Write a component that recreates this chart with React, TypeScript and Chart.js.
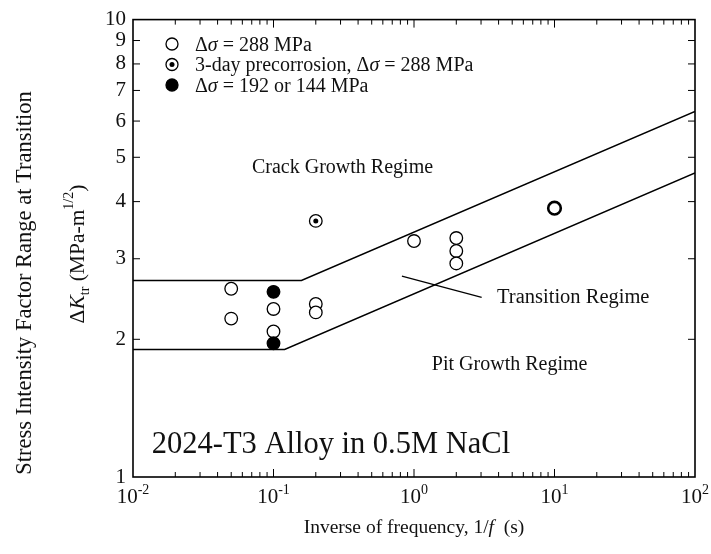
import React, { useEffect, useRef } from "react";
import { Chart, registerables } from "chart.js";

Chart.register(...registerables);

// ---------- data ----------
const openX = [0.05, 0.05, 0.1, 0.1, 0.2, 0.2, 1, 2, 2, 2];
const openY = [2.58, 2.22, 2.33, 2.08, 2.39, 2.29, 3.28, 3.33, 3.12, 2.93];
const openBoldX = [10];
const openBoldY = [3.87];
const precorrX = [0.2];
const precorrY = [3.63];
const filledX = [0.1, 0.1];
const filledY = [2.54, 1.96];

const upperX = [0.01, 0.158, 100];
const upperY = [2.69, 2.69, 6.3];
const lowerX = [0.01, 0.12, 100];
const lowerY = [1.9, 1.9, 4.62];
const pointerX = [0.82, 3.03];
const pointerY = [2.75, 2.47];

const yTickValues = [1, 2, 3, 4, 5, 6, 7, 8, 9, 10];
const xDecadeExponents = [-2, -1, 0, 1, 2];

const regimeLabels = ["Crack Growth Regime", "Transition Regime", "Pit Growth Regime"];
const regimeX = [0.0703, 3.9, 1.34];
const regimeY = [4.78, 2.48, 1.77];
const regimeSizes = [20, 20.5, 20];
const alloyLabel = "2024-T3 Alloy in 0.5M NaCl";
const alloyX = 0.0136;
const alloyY = 1.186;

const yTitleOuter = "Stress Intensity Factor Range at Transition";
const xTitleText = "Inverse of frequency, 1/";

const zip = (xs: number[], ys: number[]) => xs.map((x, i) => ({ x, y: ys[i] }));

// ---------- drawing helpers ----------
const FONT = "'Liberation Serif', 'Times New Roman', Times, serif";
type Seg = { t: string; size: number; italic?: boolean; dy?: number };

function fontOf(s: Seg) {
  return `${s.italic ? "italic " : ""}${s.size}px ${FONT}`;
}

function drawSegs(
  ctx: CanvasRenderingContext2D,
  segs: Seg[],
  x: number,
  y: number,
  align: "left" | "center",
  rot = 0
) {
  ctx.save();
  ctx.translate(x, y);
  if (rot) ctx.rotate(rot);
  ctx.textAlign = "left";
  ctx.textBaseline = "alphabetic";
  let total = 0;
  for (const s of segs) {
    ctx.font = fontOf(s);
    total += ctx.measureText(s.t).width;
  }
  let cx = align === "center" ? -total / 2 : 0;
  for (const s of segs) {
    ctx.font = fontOf(s);
    ctx.fillText(s.t, cx, s.dy || 0);
    cx += ctx.measureText(s.t).width;
  }
  ctx.restore();
}

function drawMarker(ctx: CanvasRenderingContext2D, kind: string, x: number, y: number) {
  ctx.save();
  ctx.lineWidth = 1.3;
  ctx.strokeStyle = "#000";
  ctx.beginPath();
  ctx.arc(x, y, 6, 0, Math.PI * 2);
  ctx.fillStyle = kind === "filled" ? "#000" : "#fff";
  ctx.fill();
  ctx.stroke();
  if (kind === "dot") {
    ctx.beginPath();
    ctx.arc(x, y, 2.5, 0, Math.PI * 2);
    ctx.fillStyle = "#000";
    ctx.fill();
  }
  ctx.restore();
}

const decorPlugin = {
  id: "decor",
  afterDraw(chart: any) {
    const ctx: CanvasRenderingContext2D = chart.ctx;
    const { left, right, top, bottom } = chart.chartArea;
    const xs = chart.scales.x;
    const ys = chart.scales.y;
    ctx.save();
    ctx.strokeStyle = "#000";
    ctx.fillStyle = "#111";

    // frame
    ctx.lineWidth = 1.6;
    ctx.strokeRect(left, top, right - left, bottom - top);

    // x ticks (inward, bottom and top)
    ctx.lineWidth = 1;
    for (let e = -2; e < 2; e++) {
      for (let m = 1; m <= 9; m++) {
        const v = m * Math.pow(10, e);
        const px = xs.getPixelForValue(v);
        const len = m === 1 ? 8 : 5;
        if (m === 1 && e === -2) continue;
        ctx.beginPath();
        ctx.moveTo(px, bottom);
        ctx.lineTo(px, bottom - len);
        ctx.moveTo(px, top);
        ctx.lineTo(px, top + len);
        ctx.stroke();
      }
    }
    // y ticks (inward, left and right)
    for (const v of yTickValues) {
      if (v === 1 || v === 10) continue;
      const py = ys.getPixelForValue(v);
      ctx.beginPath();
      ctx.moveTo(left, py);
      ctx.lineTo(left + 7, py);
      ctx.moveTo(right, py);
      ctx.lineTo(right - 7, py);
      ctx.stroke();
    }

    // x tick labels 10^n
    ctx.fillStyle = "#111";
    for (const e of xDecadeExponents) {
      const px = xs.getPixelForValue(Math.pow(10, e));
      drawSegs(
        ctx,
        [
          { t: "10", size: 21 },
          { t: String(e), size: 14, dy: -9 },
        ],
        px,
        bottom + 26,
        "center"
      );
    }

    // x title
    drawSegs(
      ctx,
      [
        { t: xTitleText, size: 19.5 },
        { t: "f", size: 19.5, italic: true },
        { t: "  (s)", size: 19.5 },
      ],
      (left + right) / 2,
      bottom + 56,
      "center"
    );

    // y titles
    drawSegs(ctx, [{ t: yTitleOuter, size: 22.5 }], 31, 283, "center", -Math.PI / 2);
    drawSegs(
      ctx,
      [
        { t: "Δ", size: 21.5 },
        { t: "K", size: 21.5, italic: true },
        { t: "tr", size: 14, dy: 5 },
        { t: " (MPa-m", size: 21.5 },
        { t: "1/2", size: 14, dy: -11 },
        { t: ")", size: 21.5 },
      ],
      84,
      254,
      "center",
      -Math.PI / 2
    );

    // legend
    const LS = 20;
    const legendRows: { kind: string; segs: Seg[] }[] = [
      {
        kind: "open",
        segs: [
          { t: "Δ", size: LS },
          { t: "σ", size: LS, italic: true },
          { t: " = 288 MPa", size: LS },
        ],
      },
      {
        kind: "dot",
        segs: [
          { t: "3-day precorrosion, Δ", size: LS },
          { t: "σ", size: LS, italic: true },
          { t: " = 288 MPa", size: LS },
        ],
      },
      {
        kind: "filled",
        segs: [
          { t: "Δ", size: LS },
          { t: "σ", size: LS, italic: true },
          { t: " = 192 or 144 MPa", size: LS },
        ],
      },
    ];
    legendRows.forEach((row, i) => {
      const cy = 44 + i * 20.5;
      drawMarker(ctx, row.kind, 172, cy);
      ctx.fillStyle = "#111";
      drawSegs(ctx, row.segs, 195, cy + 6.5, "left");
    });

    // regime annotations
    regimeLabels.forEach((lab, i) => {
      const px = xs.getPixelForValue(regimeX[i]);
      const py = ys.getPixelForValue(regimeY[i]);
      drawSegs(ctx, [{ t: lab, size: regimeSizes[i] }], px, py + regimeSizes[i] * 0.33, "left");
    });
    drawSegs(
      ctx,
      [{ t: alloyLabel, size: 30.5 }],
      xs.getPixelForValue(alloyX),
      ys.getPixelForValue(alloyY) + 10,
      "left"
    );
    ctx.restore();
  },
};

export default function App() {
  const ref = useRef<HTMLCanvasElement | null>(null);
  useEffect(() => {
    if (!ref.current) return;
    const lineStyle = {
      showLine: true,
      borderColor: "#000",
      borderWidth: 1.5,
      pointRadius: 0,
      fill: false,
      tension: 0,
    };
    const chart = new Chart(ref.current, {
      type: "scatter",
      data: {
        datasets: [
          {
            label: "precorrosion dot",
            data: zip(precorrX, precorrY),
            pointRadius: 2.5,
            pointBackgroundColor: "#000",
            pointBorderWidth: 0,
          },
          {
            label: "3-day precorrosion, Δσ = 288 MPa",
            data: zip(precorrX, precorrY),
            pointRadius: 6.3,
            pointBackgroundColor: "#fff",
            pointBorderColor: "#000",
            pointBorderWidth: 1.3,
          },
          {
            label: "Δσ = 192 or 144 MPa",
            data: zip(filledX, filledY),
            pointRadius: 6.3,
            pointBackgroundColor: "#000",
            pointBorderColor: "#000",
            pointBorderWidth: 1.3,
          },
          {
            label: "Δσ = 288 MPa (bold)",
            data: zip(openBoldX, openBoldY),
            pointRadius: 6.3,
            pointBackgroundColor: "#fff",
            pointBorderColor: "#000",
            pointBorderWidth: 2.6,
          },
          {
            label: "Δσ = 288 MPa",
            data: zip(openX, openY),
            pointRadius: 6.3,
            pointBackgroundColor: "#fff",
            pointBorderColor: "#000",
            pointBorderWidth: 1.3,
          },
          { label: "upper", data: zip(upperX, upperY), ...lineStyle },
          { label: "lower", data: zip(lowerX, lowerY), ...lineStyle },
          { label: "pointer", data: zip(pointerX, pointerY), ...lineStyle, borderWidth: 1.2 },
        ] as any,
      },
      options: {
        animation: false,
        responsive: false,
        maintainAspectRatio: false,
        layout: { padding: { top: 18, right: 16, left: 0, bottom: 0 } },
        plugins: {
          legend: { display: false },
          tooltip: { enabled: false },
        },
        scales: {
          x: {
            type: "logarithmic",
            min: 0.01,
            max: 100,
            grid: { display: false },
            border: { display: false },
            ticks: { display: false },
            afterFit: (s: any) => {
              s.height = 77;
            },
          },
          y: {
            type: "logarithmic",
            min: 1,
            max: 10,
            grid: { display: false, drawTicks: false },
            border: { display: false },
            afterBuildTicks: (s: any) => {
              s.ticks = yTickValues.map((v) => ({ value: v }));
            },
            ticks: {
              autoSkip: false,
              padding: 7,
              color: "#111",
              font: { family: FONT, size: 21 },
              callback: (v: any) => String(v),
            },
            afterFit: (s: any) => {
              s.width = 133;
            },
          },
        },
      } as any,
      plugins: [decorPlugin],
    });
    return () => chart.destroy();
  }, []);
  return (
    <div style={{ position: "fixed", left: 0, top: 0, width: 711, height: 554, background: "#fff" }}>
      <canvas ref={ref} width={711} height={554} style={{ width: 711, height: 554 }} />
    </div>
  );
}
